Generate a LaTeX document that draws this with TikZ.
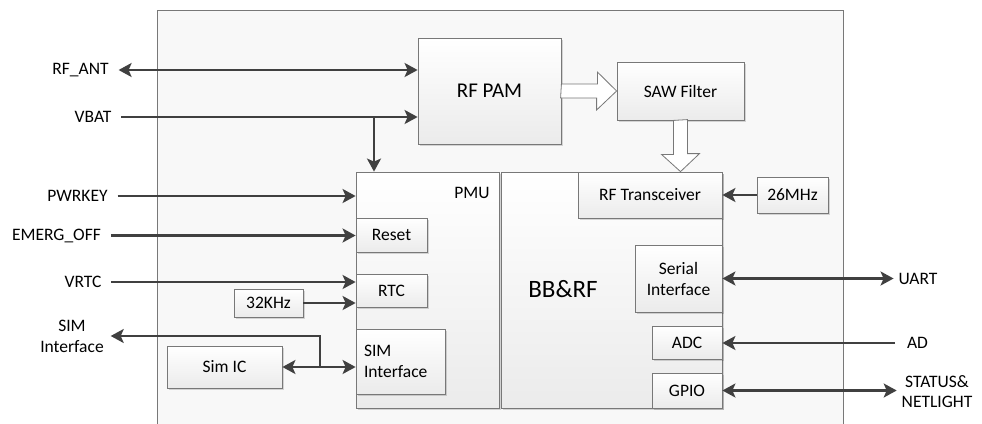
\documentclass[tikz,border=0pt]{standalone}
\usepackage{fontspec}
\setmainfont{Carlito}
\usepackage{tikz}
\usetikzlibrary{arrows.meta,shadows}
\definecolor{linegray}{HTML}{404040}
\definecolor{boxgray}{HTML}{787878}
\definecolor{boxfill}{HTML}{EBEBEB}
\definecolor{bgfill}{HTML}{F8F8F8}
\tikzset{
  blk/.style={draw=boxgray, line width=0.8pt, top color=white, bottom color=boxfill,
    drop shadow={shadow xshift=1.5pt, shadow yshift=-1.5pt, fill=black, opacity=0.15},
    font=\fontsize{17.5}{21}\selectfont, inner sep=2pt},
  lbl/.style={font=\fontsize{17.5}{21}\selectfont, inner sep=2pt, outer sep=8pt},
  lblr/.style={font=\fontsize{17.5}{20}\selectfont, inner sep=2pt, outer sep=3pt},
  sig/.style={draw=linegray, line width=2.2pt, >={Stealth[length=13pt, width=14pt, inset=3pt]}},
  hollow/.style={draw=boxgray, line width=0.8pt, fill=white, line join=miter},
}

\begin{document}
\begin{tikzpicture}[x=1pt, y=-1pt]
      \useasboundingbox (0,0) rectangle (982,423);
      \clip (0,0) rectangle (982,423);

      \node[draw=boxgray, fill=bgfill, line width=0.8pt] at (500,225) [minimum width=686, minimum height=430] (module) {};

      \node[blk, font=\fontsize{21}{25}\selectfont] at (489.5,91) [minimum width=143, minimum height=106] (rfpam) {RF PAM};
      \node[blk] at (680.5,91) [minimum width=127, minimum height=58] (saw) {SAW Filter};

      \node[blk] at (427.5,290) [minimum width=143, minimum height=236] (pmu) {};
      \node[blk] at (611.5,290) [minimum width=221, minimum height=236] (bbrf) {};
      \node[lblr] at (472,193) (pmu_lbl) {PMU};
      \node[lblr, font=\fontsize{25}{30}\selectfont] at (563,289) (bbrf_lbl) {BB\&RF};

      \node[blk] at (391.5,235) [minimum width=71, minimum height=34] (reset) {Reset};
      \node[blk] at (391.5,290.5) [minimum width=71, minimum height=33] (rtc) {RTC};
      \node[blk, align=left, text width=73pt, inner sep=8pt] at (400.5,361.5) [minimum height=65] (simif) {SIM\\Interface};
      \node[blk] at (268.5,303) [minimum width=69, minimum height=28] (k32) {32KHz};
      \node[blk] at (224.5,367) [minimum width=115, minimum height=42] (simic) {Sim IC};

      \node[blk] at (650,195) [minimum width=144, minimum height=46] (rftrans) {RF Transceiver};
      \node[blk] at (792.5,195) [minimum width=71, minimum height=36] (osc26) {26MHz};
      \node[blk, align=center] at (678.5,278.5) [minimum width=87, minimum height=67] (serif) {Serial\\Interface};
      \node[blk] at (687,342.5) [minimum width=70, minimum height=33] (adc) {ADC};
      \node[blk] at (687,390.5) [minimum width=70, minimum height=35] (gpio) {GPIO};

      % hollow arrows
      \draw[hollow] (rfpam.east) ++(0,-7) -- ++(36,0) -- ++(0,-12) -- (saw.west) -- ++(-20,19) -- ++(0,-12) -- ++(-36,0) -- cycle;
      \draw[hollow] (saw.south) ++(-7,0) -- ++(0,34) -- ++(-12,0) -- (saw.south |- rftrans.north) -- ++(19,-18) -- ++(-12,0) -- ++(0,-34) -- cycle;

      % pins
      \node[lbl] at (80.5,70) (l_rfant) {RF\_ANT};
      \node[lbl] at (93,117) (l_vbat) {VBAT};
      \node[lbl] at (77.5,196) (l_pwrkey) {PWRKEY};
      \node[lbl] at (56.5,235.5) (l_emerg) {EMERG\_OFF};
      \node[lbl] at (83,282) (l_vrtc) {VRTC};
      \node[lbl, align=center, outer sep=5pt] at (72,336) (l_sim) {SIM\\Interface};
      \node[lblr] at (918,279) (l_uart) {UART};
      \node[lblr, outer sep=10pt] at (917.5,343) (l_ad) {AD};
      \node[lblr, align=center] at (937,392) (l_status) {STATUS\&\\NETLIGHT};

      \coordinate (vbatjn) at (374,117);
      \coordinate (simjn) at (320,367);

      \draw[sig, <->] (l_rfant.east) -- (l_rfant.east -| rfpam.west);
      \draw[sig, ->] (l_vbat.east) -- (l_vbat.east -| rfpam.west);
      \draw[sig, ->] (vbatjn) -- (vbatjn |- pmu.north);
      \draw[sig, ->] (l_pwrkey.east) -- (l_pwrkey.east -| pmu.west);
      \draw[sig, ->] (l_emerg.east) -- (l_emerg.east -| reset.west);
      \draw[sig, ->] (l_vrtc.east) -- (l_vrtc.east -| rtc.west);
      \draw[sig, ->] (k32.east) -- (k32.east -| rtc.west);
      \draw[sig, <->] (simic.east) -- (simic.east -| simif.west);
      \draw[sig, ->] (simjn) |- (l_sim.east);

      \draw[sig, ->] (osc26.west) -- (osc26.west -| rftrans.east);
      \draw[sig, <->] (serif.east) -- (serif.east -| l_uart.west);
      \draw[sig, ->] (l_ad.west) -- (l_ad.west -| adc.east);
      \draw[sig, <->] (gpio.east) -- (gpio.east -| l_status.west);
\end{tikzpicture}
\end{document}
